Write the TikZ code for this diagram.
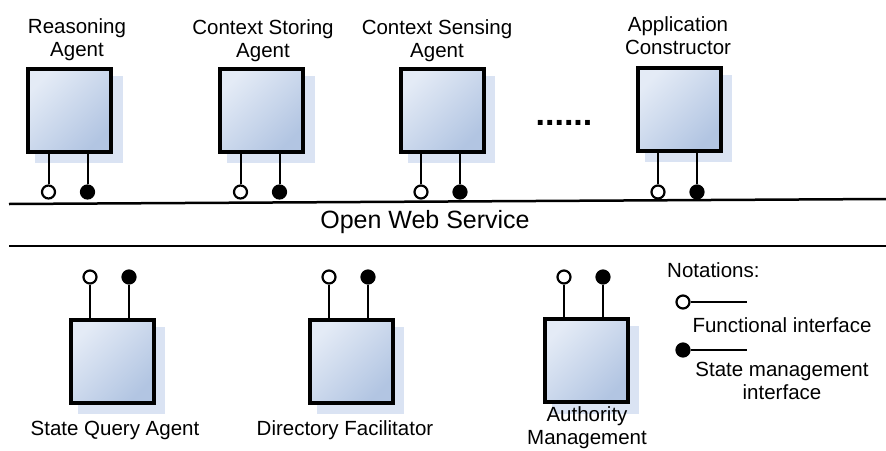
\documentclass[tikz,border=0pt]{standalone}
\usepackage{fontspec}
\setmainfont{Liberation Sans}
\usetikzlibrary{shadows}
\definecolor{boxlight}{RGB}{228,235,246}
\definecolor{boxdark}{RGB}{178,197,226}
\definecolor{shadowc}{RGB}{218,227,243}
\tikzset{
  agent/.style={draw, line width=4pt, minimum width=83pt, minimum height=83pt, inner sep=0pt,
    top color=boxlight, bottom color=boxdark, shading angle=45,
    general shadow={shadow xshift=9pt, shadow yshift=-9pt, shadow scale=1.05, fill=shadowc}},
  oport/.style={circle, draw, line width=2.2pt, minimum size=13pt, inner sep=0pt, fill=white},
  sport/.style={circle, draw, line width=2.2pt, minimum size=13pt, inner sep=0pt, fill=black},
  stub/.style={line width=2pt},
  bus/.style={line width=2.5pt},
  lbl/.style={font=\fontsize{20.5}{23}\selectfont, align=center, inner sep=0pt, anchor=base},
  biglbl/.style={font=\fontsize{25}{29}\selectfont, inner sep=0pt, anchor=base},
  dotslbl/.style={font=\fontsize{34}{36}\selectfont\bfseries, inner sep=0pt, anchor=base}
}
\begin{document}
\begin{tikzpicture}[x=1pt, y=-1pt]
\useasboundingbox (0,0) rectangle (886,450);

% bus lines
\coordinate (bus1w) at (9,204);
\coordinate (bus1e) at (886,199);
\coordinate (bus2w) at (9,246);
\coordinate (bus2e) at (886,246);
\draw[bus] (bus1w) -- (bus1e);
\draw[bus] (bus2w) -- (bus2e);
\node[biglbl] (ows) at (425,228) {Open Web Service};

% top row
\node[agent] (ra) at (69.5,110) {};
\node[agent] (csa) at (261.5,110) {};
\node[agent] (cse) at (442,110) {};
\node[agent] (ac) at (679,109) {};

\node[lbl] (ral) at (77,56) {Reasoning\\Agent};
\node[lbl] (csal) at (263,57) {Context Storing\\Agent};
\node[lbl] (csel) at (437,57) {Context Sensing\\Agent};
\node[lbl] (acl) at (678,54) {Application\\Constructor};
\node[dotslbl] (dots) at (564,125) {......};

\foreach \b/\x in {ra/69.5, csa/261.5, cse/442, ac/679}{
  \node[oport] (\b o) at (\x-21,192) {};
  \node[sport] (\b s) at (\x+18,192) {};
  \draw[stub] (\b o) -- (\b o |- \b.south);
  \draw[stub] (\b s) -- (\b s |- \b.south);
}

% bottom row
\node[agent] (sq) at (112,361) {};
\node[agent] (df) at (351,361) {};
\node[agent] (am) at (586,360.5) {};

\node[lbl] (sql) at (115,435) {State Query Agent};
\node[lbl] (dfl) at (345,435) {Directory Facilitator};
\node[lbl] (aml) at (587,444) {Authority\\Management};

\foreach \b/\x in {sq/112, df/351, am/586}{
  \node[oport] (\b o) at (\x-22,277) {};
  \node[sport] (\b s) at (\x+17,277) {};
  \draw[stub] (\b o) -- (\b o |- \b.north);
  \draw[stub] (\b s) -- (\b s |- \b.north);
}

% notations
\node[lbl, anchor=base west] (nt) at (667,277) {Notations:};
\node[oport] (n1) at (683,302) {};
\coordinate (n1e) at (747,302);
\draw[stub] (n1) -- (n1e);
\node[lbl] (n1l) at (782,332) {Functional interface};
\node[sport] (n2) at (683,350) {};
\coordinate (n2e) at (747,350);
\draw[stub] (n2) -- (n2e);
\node[lbl] (n2l) at (782,399) {State management\\interface};
\end{tikzpicture}
\end{document}
